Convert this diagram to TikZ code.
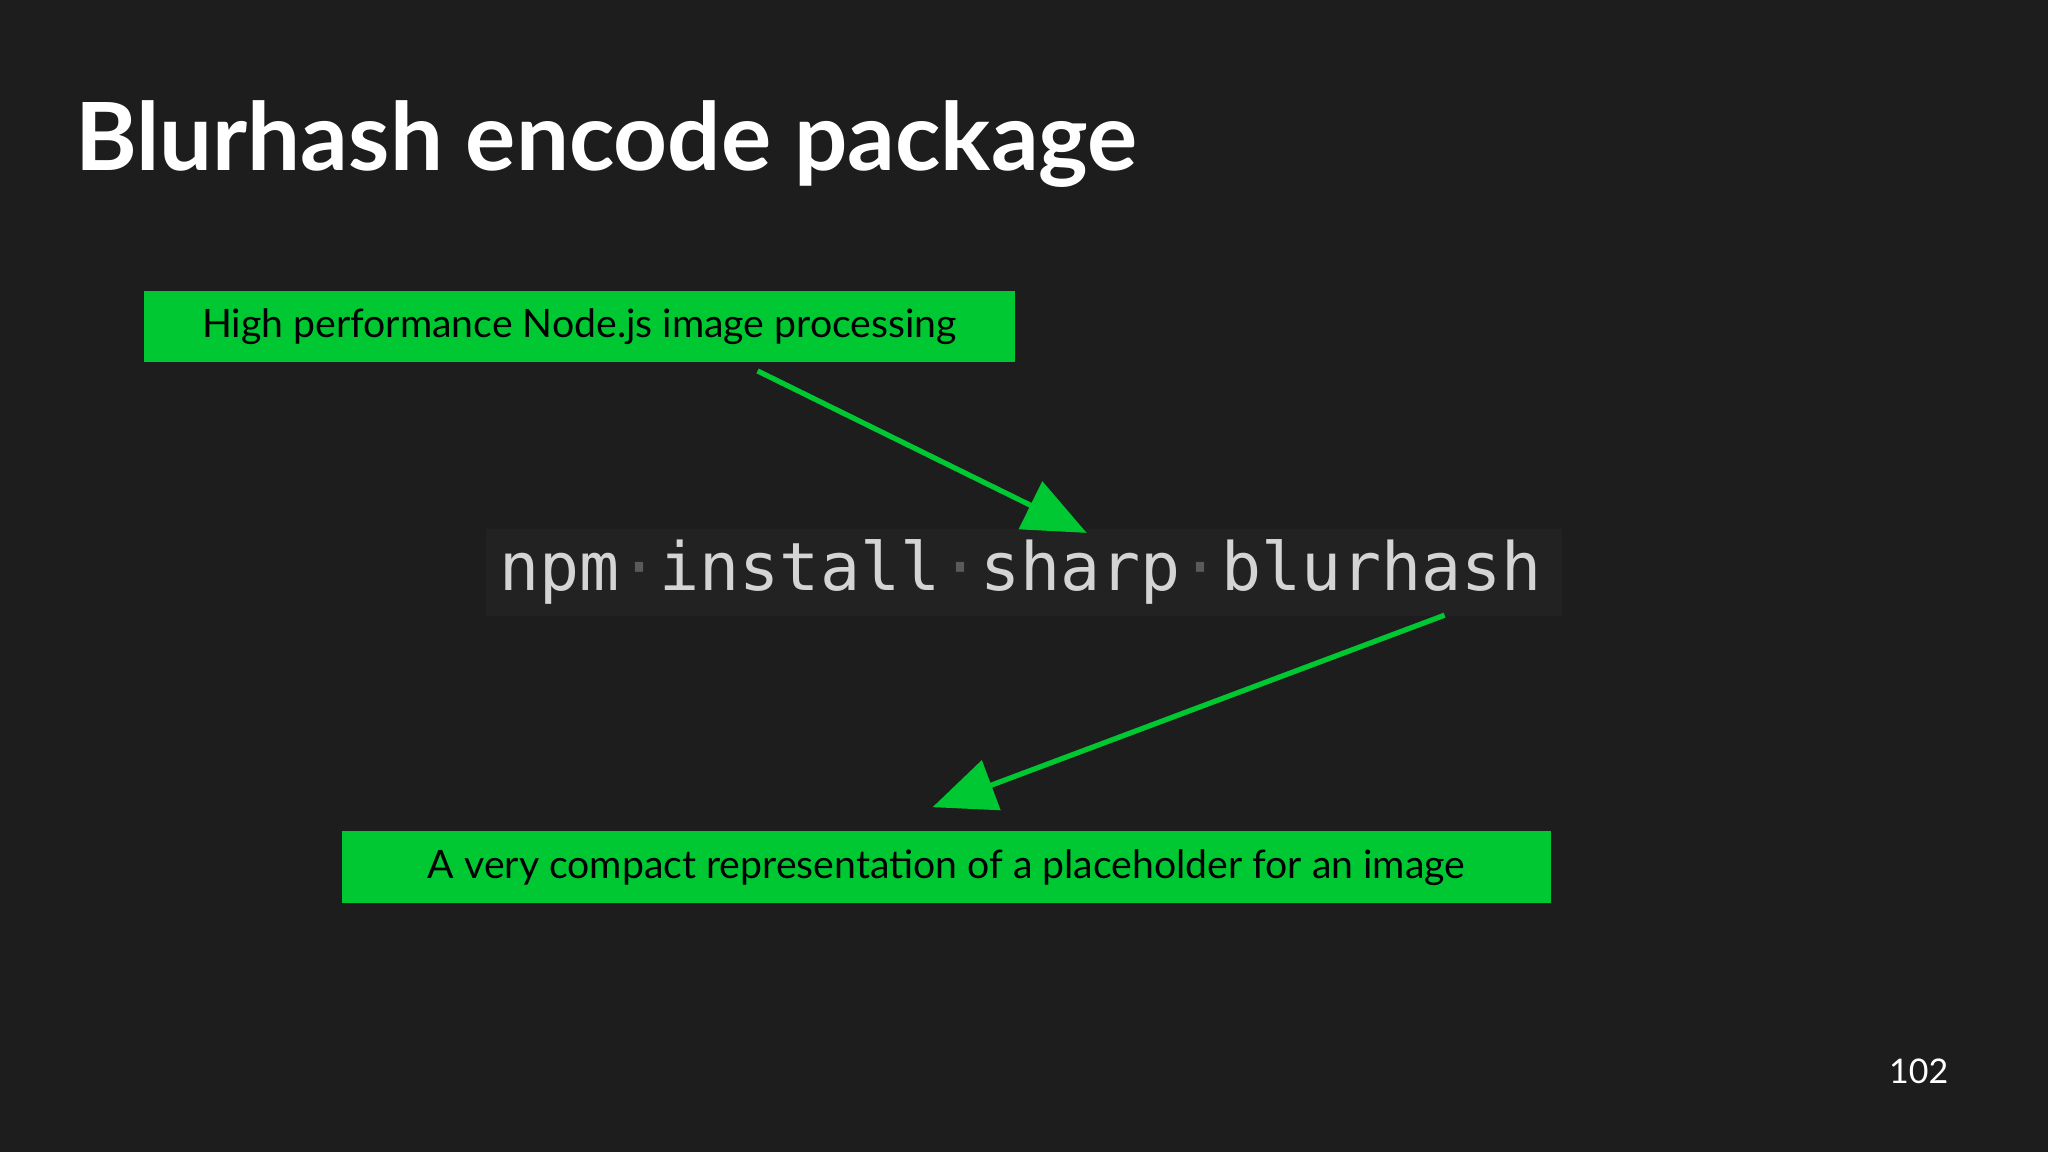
\documentclass[tikz,border=0pt]{standalone}
\usepackage{fontspec}
\setmainfont{Lato}
\newfontfamily\codefont{DejaVu Sans Mono}
\usetikzlibrary{arrows.meta}
\definecolor{bg}{HTML}{1D1D1D}
\definecolor{codebg}{HTML}{222222}
\definecolor{gr}{HTML}{00C832}
\definecolor{codefg}{HTML}{D4D4D4}
\definecolor{dotc}{HTML}{5A5A5A}
\tikzset{
 label box/.style={fill=gr,text=black,font=\fontsize{30}{34}\selectfont,anchor=west,minimum height=55pt,inner xsep=14pt},
 callout/.style={draw=gr,line width=4pt,-{Triangle[length=48pt,width=40pt]}}
}
\begin{document}
\begin{tikzpicture}[x=1pt,y=-1pt]
\fill[bg] (0,0) rectangle (1568,882);
\useasboundingbox (0,0) rectangle (1568,882);
\node[anchor=west,text=white,font=\bfseries\fontsize{72}{80}\selectfont] (title) at (54,110) {Blurhash encode package};
\fill[codebg] (372,405) rectangle (1196,472);
\node[anchor=west,text=codefg,font=\codefont\fontsize{51}{56}\selectfont,inner sep=0pt] (code) at (382,438)
 {npm\textcolor{dotc}{·}install\textcolor{dotc}{·}sharp\textcolor{dotc}{·}blurhash};
\node[label box,minimum width=667pt] (sharp) at (110,250) {High performance Node.js image processing\hfill};
\node[label box,minimum width=925pt] (blur) at (262,664) {A very compact representation of a placeholder for an image\hfill};
\coordinate (s1) at (580,284);
\coordinate (s2) at (832,408);
\coordinate (b1) at (1106,471);
\coordinate (b2) at (714,618);
\draw[callout] (s1) -- (s2);
\draw[callout] (b1) -- (b2);
\node[text=white,font=\fontsize{26}{30}\selectfont] (page) at (1469,820) {102};
\end{tikzpicture}
\end{document}
